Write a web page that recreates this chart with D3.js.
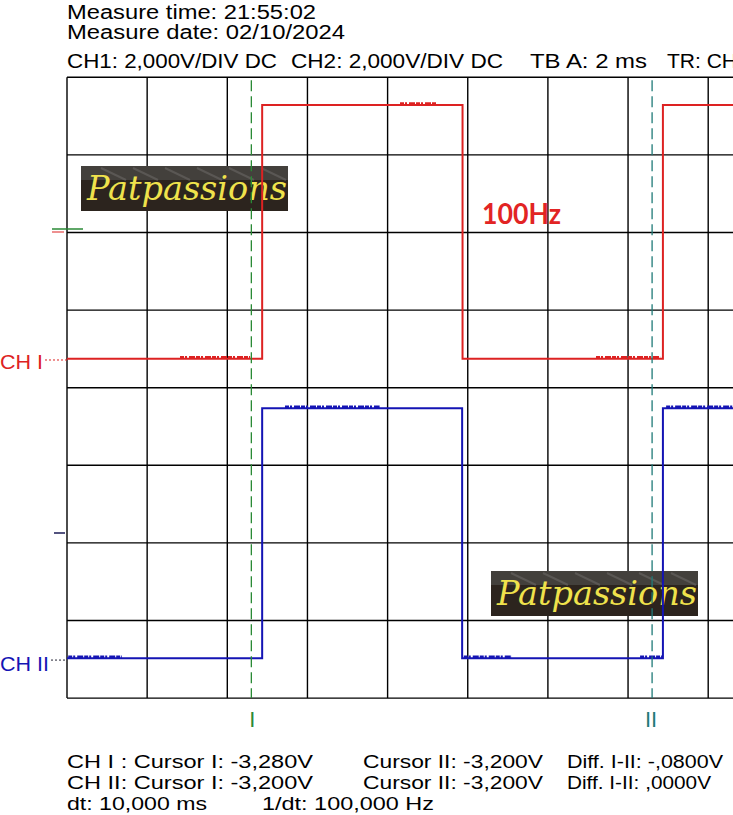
<!DOCTYPE html>
<html><head><meta charset="utf-8">
<script src="https://cdn.jsdelivr.net/npm/d3@7"></script>
<style>
html,body{margin:0;padding:0;background:#fff;overflow:hidden}
svg{display:block}
text{font-family:"Liberation Sans",Arial,sans-serif}
</style></head>
<body>
<svg id="c" width="733" height="815"></svg>
<script>
// ---------- data ----------
const headerTexts = ["Measure time: 21:55:02", "Measure date: 02/10/2024",
  "CH1: 2,000V/DIV DC", "CH2: 2,000V/DIV DC", "TB A: 2 ms", "TR: CH"];
const footerTexts = ["CH I :  Cursor I: -3,280V", "Cursor II: -3,200V", "Diff. I-II: -,0800V",
  "CH II:  Cursor I: -3,200V", "Cursor II: -3,200V", "Diff. I-II: ,0000V",
  "dt: 10,000 ms", "1/dt: 100,000 Hz"];
const timeDivs = d3.range(0, 11);       // 2 ms / div
const voltDivs = d3.range(0, 9);        // 8 vertical divisions
const msPerDiv = 2, voltPerDiv = 2;
// CH1 square wave (time ms, volts)
const ch1Time = [0, 4.87, 4.87, 9.87, 9.87, 14.87, 14.87, 20];
const ch1Volt = [0.03, 0.03, 6.57, 6.57, 0.03, 0.03, 6.57, 6.57];
// CH2 square wave
const ch2Time = [0, 4.87, 4.87, 9.86, 9.86, 14.87, 14.87, 20];
const ch2Volt = [0.05, 0.05, 6.49, 6.49, 0.05, 0.05, 6.49, 6.49];
// noise bursts [start ms, end ms, level volts]
const ch1Noise = [[2.82, 4.57, 0.03], [8.31, 9.21, 6.57], [13.2, 14.8, 0.03]];
const ch2Noise = [[0.03, 1.37, 0.05], [5.44, 7.8, 6.49], [9.9, 11.1, 0.05], [14.3, 14.85, 0.05], [14.95, 16.6, 6.49]];
const ch1ZeroDiv = 4.357, ch2ZeroDiv = 0.49;   // channel ground positions (divisions from bottom)
const cursorTimes = [4.6, 14.6];
const cursorNames = ["I", "II"];
const freqLabel = "100Hz";
const logoText = "Patpassions";

// ---------- layout ----------
const svg = d3.select("#c");
const L = 67, T = 77.3, divW = 80.15, divH = 77.6;
const x = d3.scaleLinear().domain([0, 10 * msPerDiv]).range([L, L + 10 * divW]);
const xd = d3.scaleLinear().domain([0, 10]).range([L, L + 10 * divW]);
const yd = d3.scaleLinear().domain([0, 8]).range([T + 8 * divH, T]);
const yCh1 = v => yd(ch1ZeroDiv + v / voltPerDiv);
const yCh2 = v => yd(ch2ZeroDiv + v / voltPerDiv);

// header
const hdrPos = [[67, 19, 249], [67, 39, 278], [67, 68, 210], [291, 68, 212], [530, 68, 117], [667, 68, 70]];
headerTexts.forEach((t, i) => {
  const [px, py, w] = hdrPos[i];
  svg.append("text").attr("x", px).attr("y", py).attr("font-size", i < 2 ? 20 : 21)
    .attr("textLength", w).attr("lengthAdjust", "spacingAndGlyphs").attr("fill", "#000").text(t);
});

// grid
const defs = svg.append("defs");
defs.append("clipPath").attr("id", "plot").append("rect")
  .attr("x", L).attr("y", T).attr("width", 10 * divW).attr("height", 8 * divH);
const g = svg.append("g");
g.selectAll("line.v").data(timeDivs).join("line")
  .attr("x1", d => xd(d)).attr("x2", d => xd(d)).attr("y1", yd(0)).attr("y2", yd(8))
  .attr("stroke", "#000").attr("stroke-width", 1.4);
g.selectAll("line.h").data(voltDivs).join("line")
  .attr("x1", xd(0)).attr("x2", xd(10)).attr("y1", d => yd(d)).attr("y2", d => yd(d))
  .attr("stroke", "#000").attr("stroke-width", 1.4);

// logos
function logo(lx, ly) {
  const lg = svg.append("g");
  lg.append("rect").attr("x", lx).attr("y", ly).attr("width", 207).attr("height", 45).attr("fill", "#2c241e");
  lg.append("rect").attr("x", lx).attr("y", ly).attr("width", 207).attr("height", 14).attr("fill", "#4a4744").attr("opacity", 0.8);
  for (let k = 0; k < 6; k++) {
    lg.append("line").attr("x1", lx + 20 + k * 32).attr("y1", ly + 2).attr("x2", lx + 45 + k * 32).attr("y2", ly + 14)
      .attr("stroke", "#6a6764").attr("stroke-width", 2).attr("opacity", 0.6);
  }
  lg.append("text").attr("x", lx + 6).attr("y", ly + 34).attr("font-size", 34)
    .style("font-family", "'DejaVu Serif',serif").style("font-style", "italic")
    .attr("textLength", 200).attr("lengthAdjust", "spacingAndGlyphs")
    .attr("fill", "#efe24c").text(logoText);
}
logo(81, 166);
logo(491, 571);

// traces
const plot = svg.append("g").attr("clip-path", "url(#plot)");
const line1 = d3.line().x((d, i) => x(ch1Time[i])).y((d) => yCh1(d));
const line2 = d3.line().x((d, i) => x(ch2Time[i])).y((d) => yCh2(d));
const red = "#dd2222", blue = "#1414b4";
plot.append("path").attr("d", line1(ch1Volt)).attr("fill", "none").attr("stroke", red).attr("stroke-width", 2);
plot.append("path").attr("d", line2(ch2Volt)).attr("fill", "none").attr("stroke", blue).attr("stroke-width", 2);
function noise(arr, yf, col) {
  plot.selectAll(null).data(arr).join("line")
    .attr("x1", d => x(d[0])).attr("x2", d => x(d[1]))
    .attr("y1", d => yf(d[2]) - 1.5).attr("y2", d => yf(d[2]) - 1.5)
    .attr("stroke", col).attr("stroke-width", 2.5).attr("stroke-dasharray", "4,1,2,2,6,1");
}
noise(ch1Noise, yCh1, red);
noise(ch2Noise, yCh2, blue);

// cursors
const curCol = ["#2a8a36", "#1f7a78"];
cursorTimes.forEach((t, i) => {
  svg.append("line").attr("x1", x(t)).attr("x2", x(t)).attr("y1", T + 3).attr("y2", yd(0))
    .attr("stroke", curCol[i]).attr("stroke-width", 1.3).attr("stroke-dasharray", "11,5");
  svg.append("text").attr("x", x(t) + (i === 0 ? 1 : -1)).attr("y", 727).attr("text-anchor", "middle")
    .attr("font-size", 22).attr("fill", curCol[i]).text(cursorNames[i]);
});

// channel labels
svg.append("text").attr("x", 0).attr("y", 369).attr("font-size", 21)
  .attr("textLength", 43).attr("lengthAdjust", "spacingAndGlyphs").attr("fill", red).text("CH I");
svg.append("line").attr("x1", 45).attr("x2", L).attr("y1", yCh1(0)).attr("y2", yCh1(0))
  .attr("stroke", red).attr("stroke-width", 1).attr("stroke-dasharray", "2,2");
svg.append("text").attr("x", 0).attr("y", 671).attr("font-size", 21)
  .attr("textLength", 49).attr("lengthAdjust", "spacingAndGlyphs").attr("fill", blue).text("CH II");
svg.append("line").attr("x1", 51).attr("x2", L).attr("y1", yCh2(0)).attr("y2", yCh2(0))
  .attr("stroke", "#223").attr("stroke-width", 1).attr("stroke-dasharray", "2,2");

// side markers
svg.append("line").attr("x1", 52).attr("x2", 83).attr("y1", 229).attr("y2", 229).attr("stroke", "#2a8a36").attr("stroke-width", 1.5);
svg.append("line").attr("x1", 52).attr("x2", 64).attr("y1", 232).attr("y2", 232).attr("stroke", red).attr("stroke-width", 1);
svg.append("line").attr("x1", 54).attr("x2", 65).attr("y1", 533).attr("y2", 533).attr("stroke", "#1a1a55").attr("stroke-width", 1.5);

// frequency label
svg.append("text").attr("x", 482).attr("y", 224).attr("font-size", 28).attr("font-weight", "bold")
  .style("font-family", "Lato,'Open Sans',sans-serif")
  .attr("textLength", 79).attr("lengthAdjust", "spacingAndGlyphs").attr("fill", "#e22424").text(freqLabel);

// footer
const ftPos = [[67, 768, 246], [363, 768, 180], [567, 768, 156],
  [67, 789, 246], [363, 789, 180], [567, 789, 144],
  [67, 810, 140], [262, 810, 172]];
footerTexts.forEach((t, i) => {
  const [px, py, w] = ftPos[i];
  svg.append("text").attr("x", px).attr("y", py).attr("font-size", 18.5)
    .attr("textLength", w).attr("lengthAdjust", "spacingAndGlyphs").attr("fill", "#000").text(t);
});
</script>
</body></html>
